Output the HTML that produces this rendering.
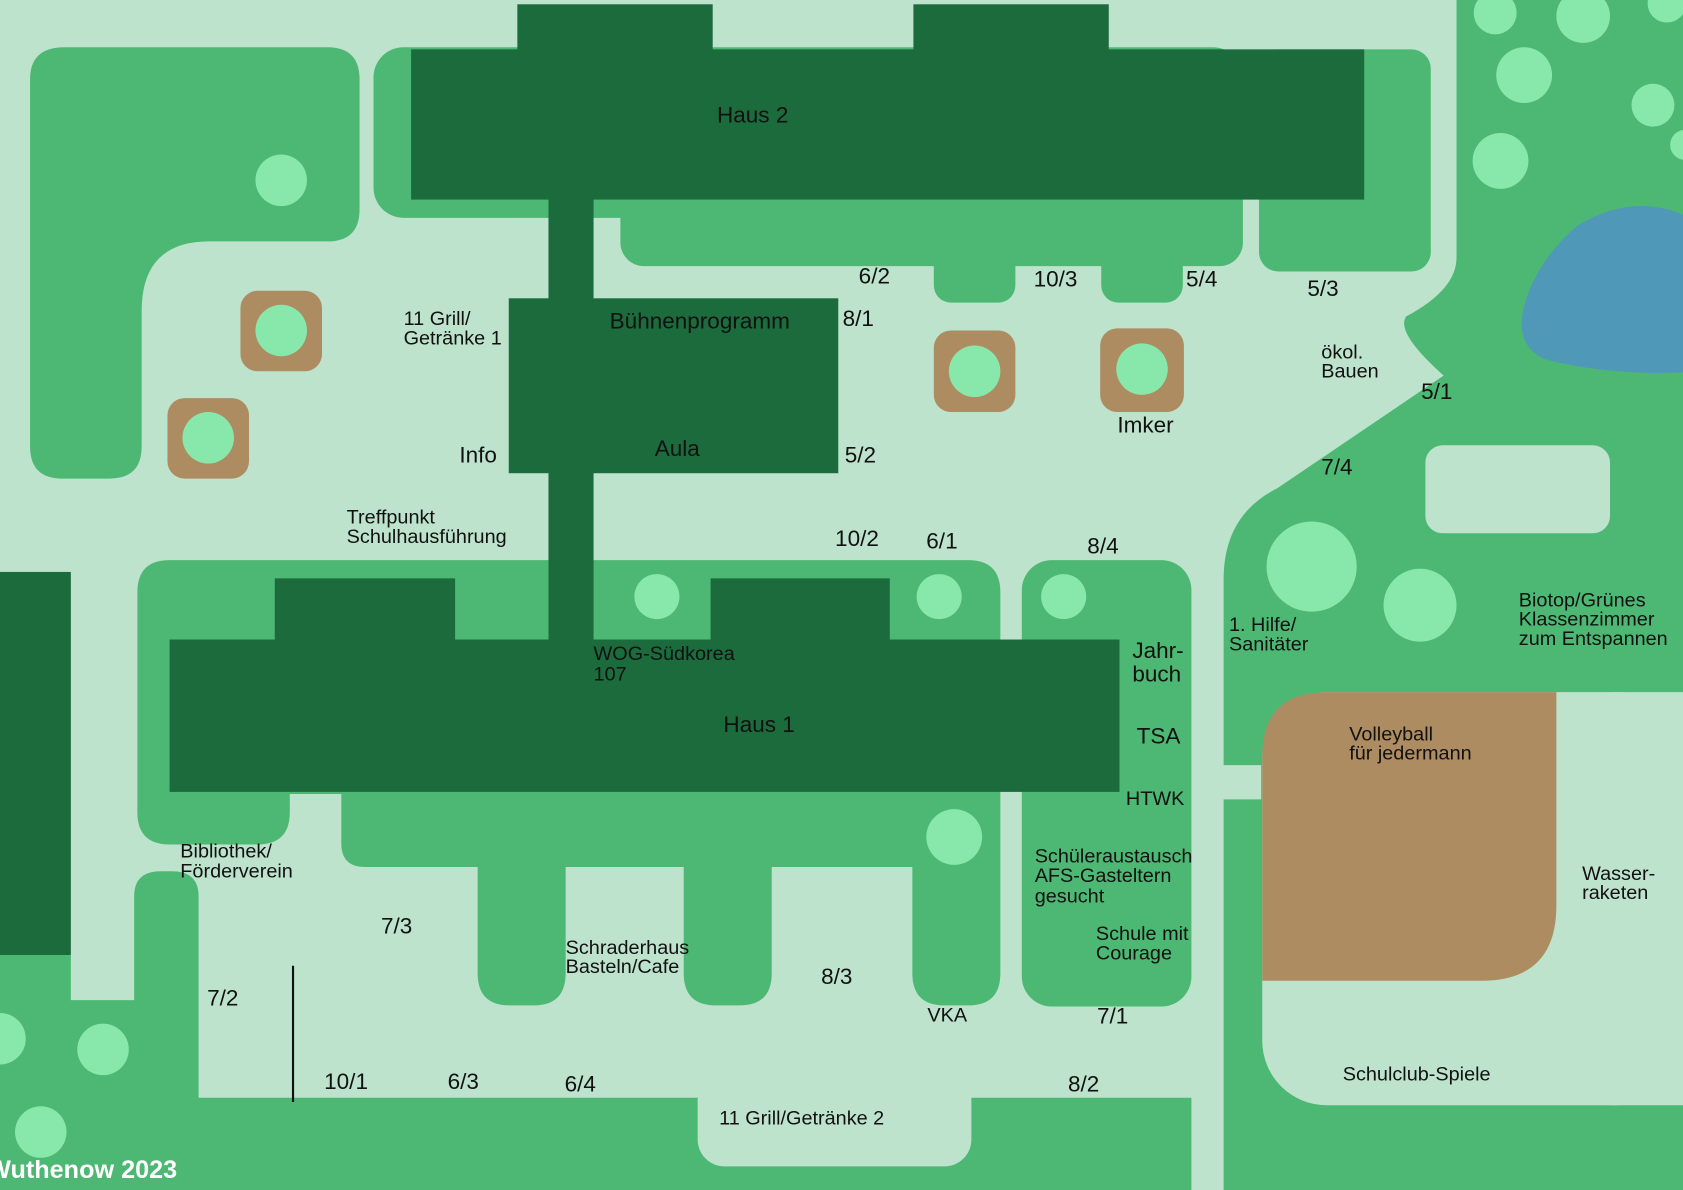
<!DOCTYPE html>
<html><head><meta charset="utf-8"><style>html,body{margin:0;padding:0;background:#bde3cc}svg{display:block}text{font-family:"Liberation Sans",sans-serif;fill:#111}</style></head><body>
<svg width="1683" height="1190" viewBox="0 0 1568 1109" preserveAspectRatio="none" xmlns="http://www.w3.org/2000/svg">
<rect width="1568" height="1109" fill="#bde3cc"/>
<g fill="#4db873">
<path d="M60,44 H305 Q335,44 335,74 V195 Q335,225 305,225 H195 Q132,225 132,290 V416 Q132,446 102,446 H58 Q28,446 28,416 V74 Q28,44 60,44 Z"/>
<rect x="348" y="44" width="810" height="159" rx="28"/>
<rect x="578" y="150" width="580" height="98" rx="22"/>
<rect x="870" y="220" width="76" height="62" rx="16"/>
<rect x="1026" y="220" width="76" height="62" rx="16"/>
<rect x="1173" y="46" width="160" height="207" rx="18"/>
<path d="M1357,0 H1568 V1109 H1140 V745 H1175 V713 H1140 V540 Q1140,480 1190,455 L1345,350 Q1300,310 1310,295 Q1357,270 1357,240 Z"/>
<path d="M158,522 H902 Q932,522 932,552 V907 Q932,937 902,937 H880 Q850,937 850,907 V808 H719 V907 Q719,937 689,937 H667 Q637,937 637,907 V808 H527 V907 Q527,937 497,937 H475 Q445,937 445,907 V808 H340 Q318,808 318,786 V740 H270 V757 Q270,787 240,787 H158 Q128,787 128,757 V552 Q128,522 158,522 Z"/>
<rect x="952" y="522" width="158" height="416" rx="28"/>
<path d="M0,890 H66 V932 H125 V835 Q125,812 150,812 H160 Q185,812 185,835 V1023 H1110 V1109 H0 Z"/>
</g>
<rect x="650" y="990" width="255" height="97" rx="25" fill="#bde3cc"/>
<rect x="1176" y="645" width="392" height="385" rx="60" fill="#bde3cc"/>
<rect x="1500" y="645" width="68" height="385" fill="#bde3cc"/>
<rect x="1328" y="415" width="172" height="82" rx="16" fill="#bde3cc"/>
<path d="M1236,645 H1450 V844 Q1450,914 1380,914 H1176 V705 Q1176,645 1236,645 Z" fill="#ad8c62"/>
<path d="M1470,210 Q1520,180 1568,200 V347 Q1500,350 1440,335 Q1405,320 1425,270 Q1440,235 1470,210 Z" fill="#4f98b8"/>
<g fill="#1c6b3d">
<rect x="383" y="46" width="888" height="140"/>
<rect x="482" y="4" width="182" height="44"/>
<rect x="851" y="4" width="182" height="44"/>
<rect x="511" y="184" width="42" height="96"/>
<rect x="474" y="278" width="307" height="163"/>
<rect x="511" y="440" width="42" height="160"/>
<rect x="158" y="596" width="885" height="142"/>
<rect x="256" y="539" width="168" height="58"/>
<rect x="662" y="539" width="167" height="58"/>
<rect x="0" y="533" width="66" height="357"/>
</g>
<g fill="#ad8c62">
<rect x="224" y="271" width="76" height="75" rx="16"/>
<rect x="156" y="371" width="76" height="75" rx="16"/>
<rect x="870" y="308" width="76" height="76" rx="16"/>
<rect x="1025" y="306" width="78" height="78" rx="16"/>
</g>
<g fill="#88e8ab">
<circle cx="262" cy="308" r="24"/><circle cx="194" cy="408" r="24"/><circle cx="908" cy="346" r="24"/><circle cx="1064" cy="344" r="24"/>
<circle cx="262" cy="168" r="24"/>
<circle cx="1393" cy="12" r="20"/><circle cx="1475" cy="15" r="25"/><circle cx="1420" cy="70" r="26"/><circle cx="1540" cy="98" r="20"/><circle cx="1553" cy="3" r="18"/><circle cx="1398" cy="150" r="26"/><circle cx="1570" cy="135" r="14"/>
<circle cx="1222" cy="528" r="42"/><circle cx="1323" cy="564" r="34"/>
<circle cx="612" cy="556" r="21"/><circle cx="875" cy="556" r="21"/><circle cx="991" cy="556" r="21"/><circle cx="889" cy="780" r="26"/>
<circle cx="0" cy="968" r="24"/><circle cx="96" cy="978" r="24"/><circle cx="38" cy="1055" r="24"/>
</g>
<line x1="273" y1="900" x2="273" y2="1027" stroke="#111" stroke-width="2"/>
<g font-size="21">
<text x="668" y="114">Haus 2</text>
<text x="568" y="306">Bühnenprogramm</text>
<text x="610" y="425">Aula</text>
<text x="428" y="431">Info</text>
<text x="674" y="682">Haus 1</text>
<text x="800" y="264">6/2</text><text x="785" y="304">8/1</text><text x="963" y="267">10/3</text><text x="1105" y="267">5/4</text><text x="1218" y="276">5/3</text>
<text x="1324" y="372">5/1</text><text x="1231" y="442">7/4</text><text x="1041" y="403">Imker</text>
<text x="787" y="431">5/2</text><text x="778" y="509">10/2</text><text x="863" y="511">6/1</text><text x="1013" y="516">8/4</text>
<text x="1055" y="613">Jahr-</text><text x="1055" y="635">buch</text><text x="1059" y="693">TSA</text>
<text x="355" y="870">7/3</text><text x="193" y="937">7/2</text><text x="765" y="917">8/3</text><text x="1022" y="954">7/1</text>
<text x="302" y="1015">10/1</text><text x="417" y="1015">6/3</text><text x="526" y="1017">6/4</text><text x="995" y="1017">8/2</text>
</g>
<g font-size="18.5">
<text x="376" y="303">11 Grill/</text><text x="376" y="321">Getränke 1</text>
<text x="1231" y="334">ökol.</text><text x="1231" y="352">Bauen</text>
<text x="323" y="488">Treffpunkt</text><text x="323" y="506">Schulhausführung</text>
<text x="553" y="615">WOG-Südkorea</text><text x="553" y="634">107</text>
<text x="1145" y="588">1. Hilfe/</text><text x="1145" y="606">Sanitäter</text>
<text x="1415" y="565">Biotop/Grünes</text><text x="1415" y="583">Klassenzimmer</text><text x="1415" y="601">zum Entspannen</text>
<text x="1257" y="690">Volleyball</text><text x="1257" y="708">für jedermann</text>
<text x="1049" y="750">HTWK</text>
<text x="168" y="799">Bibliothek/</text><text x="168" y="818">Förderverein</text>
<text x="964" y="804">Schüleraustausch</text><text x="964" y="822">AFS-Gasteltern</text><text x="964" y="841">gesucht</text>
<text x="1474" y="820">Wasser-</text><text x="1474" y="838">raketen</text>
<text x="1021" y="876">Schule mit</text><text x="1021" y="894">Courage</text>
<text x="527" y="889">Schraderhaus</text><text x="527" y="907">Basteln/Cafe</text>
<text x="864" y="952">VKA</text>
<text x="1251" y="1007">Schulclub-Spiele</text>
<text x="670" y="1048">11 Grill/Getränke 2</text>
</g>
<text x="-12" y="1098" font-size="23.5" font-weight="bold" style="fill:#fff">Wuthenow 2023</text>
</svg>
</body></html>
